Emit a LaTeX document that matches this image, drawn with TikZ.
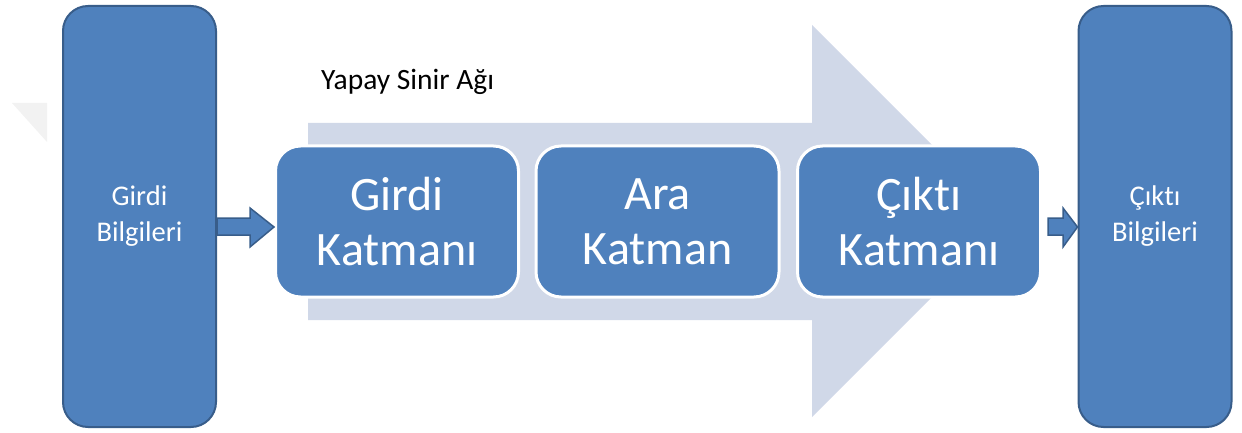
\documentclass[tikz,border=0pt]{standalone}
\usepackage{fontspec}
\setmainfont[Ligatures={NoCommon}]{Carlito}
\definecolor{boxblue}{HTML}{4F81BD}
\definecolor{boxedge}{HTML}{385D8A}
\definecolor{arrowgray}{HTML}{D0D8E8}
\definecolor{wmgray}{HTML}{F2F2F2}
\tikzset{
  tallbox/.style={rectangle, rounded corners=25pt, fill=boxblue, draw=boxedge, line width=2pt,
    minimum width=153pt, minimum height=421pt, inner sep=0pt, align=center, text=white,
    font=\fontsize{28.5}{36}\selectfont},
  layerbox/.style={rectangle, rounded corners=25pt, fill=boxblue, draw=white, line width=3pt,
    minimum width=243pt, minimum height=151pt, inner sep=0pt, align=center, text=white,
    font=\fontsize{48}{55}\selectfont},
  blockarrow/.style={fill=boxblue, draw=boxedge, line width=1.5pt, line join=miter},
  bigarrow/.style={fill=arrowgray, draw=none}
}
\begin{document}
\begin{tikzpicture}[x=1pt,y=-1pt]
\useasboundingbox (0,0) rectangle (1242,433);
% faint watermark fragment
\fill[wmgray] (12,103) -- (47,103) -- (47,142) -- cycle;
% big background arrow
\path[bigarrow] (308,123) -- (812,123) -- (812,25) -- (1008,221) -- (812,417) -- (812,320) -- (308,320) -- cycle;
\node[font=\fontsize{29.5}{34}\selectfont, anchor=base west, inner sep=0pt] (title) at (321,90) {Yapay Sinir Ağı};
% outer boxes
\node[tallbox] (in) at (139.5,216.5) {Girdi\\Bilgileri};
\node[tallbox] (out) at (1155,216.5) {Çıktı\\Bilgileri};
% layer boxes
\node[layerbox] (l1) at (397,221.5) {Girdi\\Katmanı};
\node[layerbox] (l2) at (657.5,221.5) {Ara\\Katman};
\node[layerbox] (l3) at (919,221.5) {Çıktı\\Katmanı};
% block arrows
\path[blockarrow] (in.east |- 0,218) -- (250,218) -- (250,208) -- (l1.west |- 0,227) -- (250,247) -- (250,235) -- (in.east |- 0,235) -- cycle;
\path[blockarrow] (1048,218) -- (1063,218) -- (1063,208) -- (out.west |- 0,227) -- (1063,247) -- (1063,235) -- (1048,235) -- cycle;
\end{tikzpicture}
\end{document}
